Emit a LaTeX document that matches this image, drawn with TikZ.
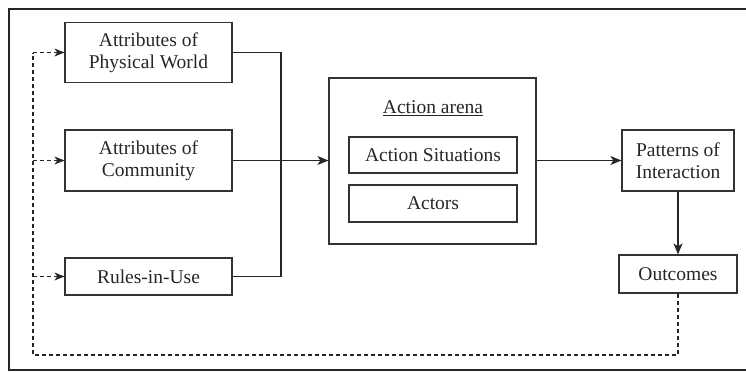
\documentclass[tikz,border=0pt]{standalone}
\usepackage{fontspec}
\setmainfont{Liberation Serif}
\usetikzlibrary{arrows.meta}
\begin{document}
\begin{tikzpicture}[x=1pt,y=-1pt,
  box/.style={draw=black!80,line width=1.2pt,minimum width=#1,inner sep=0pt,align=center,
    font=\fontsize{19.5}{22.5}\selectfont,text=black!85},
  conn/.style={draw=black!85,line width=1.2pt},
  arr/.style={conn,-{Stealth[length=11pt,width=9pt,inset=3pt]}},
  darr/.style={conn,dash pattern=on 4pt off 3pt,-{Stealth[length=10pt,width=8pt,inset=3pt]}},
  dline/.style={conn,dash pattern=on 4pt off 3pt}]
\useasboundingbox (0,0) rectangle (746,372);
\draw[black!85,line width=1.2pt] (749,8.5) -- (9,8.5) -- (9,370) -- (749,370);
\draw[black!85,line width=2pt] (9,8.5) -- (749,8.5);
\node[box=167pt,minimum height=60pt] (phys) at (148.5,52.5) {Attributes of\\Physical World};
\node[box=167pt,minimum height=61pt] (comm) at (148.5,160.5) {Attributes of\\Community};
\node[box=167pt,minimum height=37pt] (rules) at (148.5,276.5) {Rules-in-Use};
\node[box=207pt,minimum height=166pt] (arena) at (432.5,161) {};
\node[font=\fontsize{19.5}{22.5}\selectfont,text=black!85,inner sep=0pt] (alabel) at (433,108) {\underline{Action arena}};
\node[box=168pt,minimum height=36pt] (sit) at (433,155) {Action Situations};
\node[box=168pt,minimum height=37pt] (actors) at (433,203.5) {Actors};
\node[box=112pt,minimum height=61pt] (pat) at (678,160.5) {Patterns of\\Interaction};
\node[box=118pt,minimum height=38pt] (out) at (678,274) {Outcomes};
\coordinate (tr) at (281,52.5);
\coordinate (br) at (281,276.5);
\draw[conn] (phys.east) -- (tr) -- (br) -- (rules.east);
\draw[arr] (comm.east) -- (comm.east -| arena.west);
\draw[arr] (arena.east |- pat.west) -- (pat.west);
\draw[arr] (pat.south) -- (out.north);
\coordinate (fb1) at (678,355);
\coordinate (fb2) at (33,355);
\coordinate (ft) at (33,52.5);
\coordinate (fm) at (33,160.5);
\coordinate (fr) at (33,276.5);
\draw[dline] (out.south) -- (fb1) -- (fb2) -- (ft);
\draw[darr] (ft) -- (phys.west);
\draw[darr] (fm) -- (comm.west);
\draw[darr] (fr) -- (rules.west);
\end{tikzpicture}
\end{document}
